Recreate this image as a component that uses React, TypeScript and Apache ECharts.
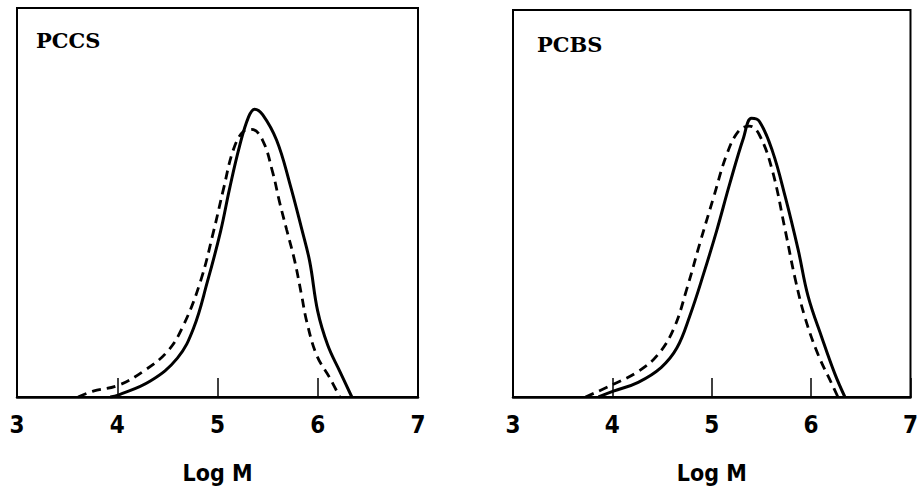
import React, { useEffect, useRef } from "react";
import * as echarts from "echarts";

const xTicks = [3, 4, 5, 6, 7];
const panelLabels = ["PCCS", "PCBS"];
const axisName = "Log M";

const pccsSolid: [number, number][] = [
  [3.93, 0], [4.01, 0.5], [4.33, 4.1], [4.6, 10], [4.76, 17.6], [4.9, 29.7],
  [5.03, 42.5], [5.12, 53.5], [5.22, 64.5], [5.31, 72], [5.37, 74], [5.45, 72.6],
  [5.59, 66], [5.72, 55], [5.84, 43.2], [5.92, 34.8], [6.0, 22], [6.1, 13.3],
  [6.22, 6.6], [6.34, 0],
];
const pccsDashed: [number, number][] = [
  [3.61, 0], [3.76, 1.5], [4.01, 3], [4.26, 6.6], [4.5, 11.7], [4.66, 18.4],
  [4.83, 29.7], [4.96, 42.5], [5.06, 53.5], [5.16, 63.7], [5.26, 68.3], [5.34, 68.8],
  [5.45, 66], [5.55, 57.8], [5.62, 50], [5.69, 43], [5.77, 35], [5.84, 26],
  [5.89, 19.4], [5.99, 10.7], [6.12, 4.9], [6.22, 0],
];
const pcbsSolid: [number, number][] = [
  [3.86, 0], [4.01, 1.5], [4.26, 3.8], [4.49, 7.6], [4.65, 12.7], [4.78, 21],
  [4.92, 32], [5.05, 43], [5.18, 55], [5.32, 67], [5.4, 72], [5.48, 71.2],
  [5.61, 63.6], [5.74, 51.7], [5.87, 38], [5.97, 26], [6.11, 15.2], [6.24, 5.9],
  [6.34, 0],
];
const pcbsDashed: [number, number][] = [
  [3.73, 0], [4.01, 3.3], [4.26, 6.6], [4.46, 11], [4.62, 17.8], [4.75, 28],
  [4.88, 39.7], [5.02, 51.7], [5.15, 62.6], [5.27, 68.7], [5.38, 70], [5.48, 67.7],
  [5.61, 58.5], [5.74, 43], [5.84, 30.5], [5.94, 20.4], [6.07, 11], [6.21, 3.3],
  [6.27, 0],
];

export default function App() {
  const ref = useRef<HTMLDivElement>(null);
  useEffect(() => {
    if (!ref.current) return;
    const chart = echarts.init(ref.current, undefined, { renderer: "svg" });
    const grids = [
      { left: 17, right: 503, top: 8, bottom: 90 },
      { left: 513, right: 4, top: 10, bottom: 86 },
    ];
    const labelFont = "DejaVu Sans Condensed";
    const xAxis = grids.map((_, i) => ({
      type: "value",
      gridIndex: i,
      min: xTicks[0],
      max: xTicks[xTicks.length - 1],
      interval: 1,
      name: axisName,
      nameLocation: "middle",
      nameGap: 64,
      nameTextStyle: {
        fontFamily: labelFont,
        fontWeight: "bold",
        fontSize: 23,
        color: "#000",
      },
      axisLine: { show: true, lineStyle: { color: "#000", width: 2.5 } },
      axisTick: { show: true, inside: true, length: 19, lineStyle: { color: "#000", width: 1.5 } },
      axisLabel: {
        show: true,
        margin: 16,
        fontFamily: labelFont,
        fontWeight: "bold",
        fontSize: 24,
        color: "#000",
      },
      splitLine: { show: false },
    }));
    const yAxis = grids.map((_, i) => ({
      type: "value",
      gridIndex: i,
      min: 0,
      max: 100,
      show: false,
    }));
    const mk = (data: [number, number][], idx: number, dashed: boolean) => ({
      type: "line",
      xAxisIndex: idx,
      yAxisIndex: idx,
      data,
      smooth: 0.4,
      showSymbol: false,
      symbol: "none",
      lineStyle: {
        color: "#000",
        width: dashed ? 2.8 : 3,
        type: dashed ? [9, 6] : "solid",
      },
      z: dashed ? 2 : 3,
    });
    chart.setOption({
      animation: false,
      backgroundColor: "#fff",
      grid: grids.map((g) => ({
        ...g,
        show: true,
        borderColor: "#000",
        borderWidth: 2,
        backgroundColor: "transparent",
        containLabel: false,
      })),
      xAxis,
      yAxis,
      series: [
        mk(pccsSolid, 0, false),
        mk(pccsDashed, 0, true),
        mk(pcbsSolid, 1, false),
        mk(pcbsDashed, 1, true),
      ],
      graphic: [
        {
          type: "text",
          left: 36,
          top: 30,
          style: {
            text: panelLabels[0],
            font: "bold 21px 'DejaVu Serif'",
            fill: "#000",
          },
        },
        {
          type: "text",
          left: 537,
          top: 34,
          style: {
            text: panelLabels[1],
            font: "bold 21px 'DejaVu Serif'",
            fill: "#000",
          },
        },
      ],
    });
    return () => chart.dispose();
  }, []);
  return <div ref={ref} style={{ width: 921, height: 489, position: "absolute", left: 0, top: 0 }} />;
}
